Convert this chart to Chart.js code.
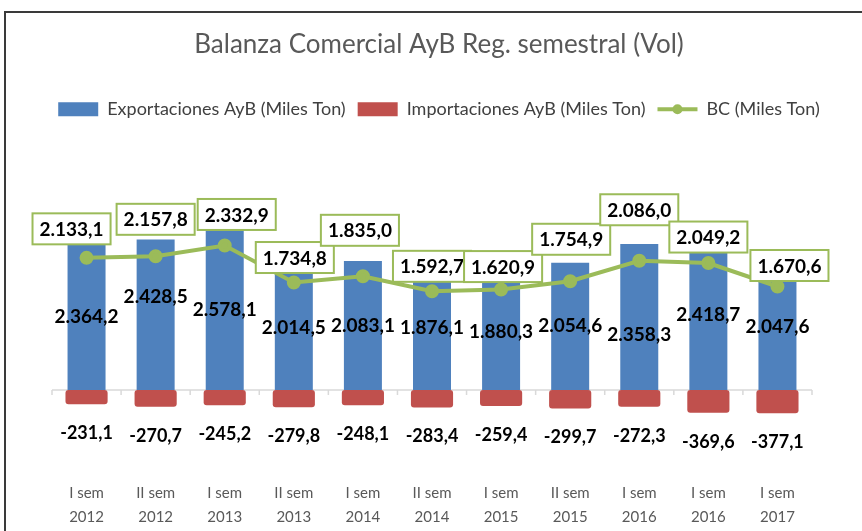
<!DOCTYPE html>
<html>
<head>
<meta charset="utf-8">
<script src="https://cdn.jsdelivr.net/npm/chart.js@4.4.1/dist/chart.umd.min.js"></script>
<style>
  html, body { margin: 0; padding: 0; background: #fff; overflow: hidden; }
  .frame {
    position: absolute; left: 4px; top: 11px;
    width: 900px; height: 600px;
    border: 2px solid #3a3a3a;
    overflow: hidden;
  }
  .chart-box { position: relative; width: 856px; height: 518px; }
</style>
</head>
<body>
<div class="frame">
  <div class="chart-box"><canvas id="chart"></canvas></div>
</div>
<script>
const categories = [
  ['I sem', '2012'], ['II sem', '2012'], ['I sem', '2013'], ['II sem', '2013'],
  ['I sem', '2014'], ['II sem', '2014'], ['I sem', '2015'], ['II sem', '2015'],
  ['I sem', '2016'], ['I sem', '2016'], ['I sem', '2017']
];
const exportaciones = [2364.2, 2428.5, 2578.1, 2014.5, 2083.1, 1876.1, 1880.3, 2054.6, 2358.3, 2418.7, 2047.6];
const importaciones = [-231.1, -270.7, -245.2, -279.8, -248.1, -283.4, -259.4, -299.7, -272.3, -369.6, -377.1];
const balanza = [2133.1, 2157.8, 2332.9, 1734.8, 1835.0, 1592.7, 1620.9, 1754.9, 2086.0, 2049.2, 1670.6];

// formato español: 2.364,2
function fmt(v) {
  const parts = Math.abs(v).toFixed(1).split('.');
  const ent = parts[0].replace(/\B(?=(\d{3})+(?!\d))/g, '.');
  return (v < 0 ? '-' : '') + ent + ',' + parts[1];
}

// eje cero y marcas entre categorías
const zeroAxis = {
  id: 'zeroAxis',
  beforeDatasetsDraw(chart) {
    const { ctx, scales: { x, y } } = chart;
    const y0 = y.getPixelForValue(0);
    const step = x.getPixelForValue(1) - x.getPixelForValue(0);
    ctx.save();
    ctx.strokeStyle = '#d9d9d9';
    ctx.lineWidth = 1.5;
    ctx.beginPath();
    ctx.moveTo(x.left, y0);
    ctx.lineTo(x.right, y0);
    for (let i = 0; i <= categories.length; i++) {
      const px = x.getPixelForValue(0) - step / 2 + i * step;
      ctx.moveTo(px, y0);
      ctx.lineTo(px, y0 + 5);
    }
    ctx.stroke();
    ctx.restore();
  }
};

// desplazamientos manuales de etiquetas (como en el original, para no encimarse)
const boxShiftX = [-15, 0, 12, 1, -3, 0, 2, 1, 0, 0, 12];
const boxShiftY = [-29, -37, -31, -25, -46, -25, -23, -42, -51, -26, -21];
const expShiftY = [0, -18, 0, 0, 0, -4, 0, 0, 18, 0, 0];

// etiquetas de datos
const valueLabels = {
  id: 'valueLabels',
  afterDatasetsDraw(chart) {
    const ctx = chart.ctx;
    ctx.save();
    ctx.textAlign = 'center';
    ctx.textBaseline = 'middle';
    ctx.fillStyle = '#000';

    // exportaciones: centro de la barra
    ctx.font = 'bold 19px Lato';
    chart.getDatasetMeta(0).data.forEach((bar, i) => {
      ctx.fillText(fmt(exportaciones[i]), bar.x, (bar.y + bar.base) / 2 + expShiftY[i]);
    });

    // importaciones: debajo de la barra
    ctx.font = 'bold 18px Lato';
    chart.getDatasetMeta(1).data.forEach((bar, i) => {
      ctx.fillText(fmt(importaciones[i]), bar.x, bar.y + 29);
    });

    // BC: recuadro sobre el punto
    ctx.font = 'bold 19px Lato';
    chart.getDatasetMeta(2).data.forEach((pt, i) => {
      const txt = fmt(balanza[i]);
      const w = ctx.measureText(txt).width + 14;
      const h = 31;
      const cx = pt.x + boxShiftX[i];
      const cy = pt.y + boxShiftY[i];
      ctx.fillStyle = '#fff';
      ctx.fillRect(cx - w / 2, cy - h / 2, w, h);
      ctx.strokeStyle = '#9bbb59';
      ctx.lineWidth = 2;
      ctx.strokeRect(cx - w / 2, cy - h / 2, w, h);
      ctx.fillStyle = '#000';
      ctx.fillText(txt, cx, cy + 1);
    });
    ctx.restore();
  },
  // punto sobre la línea de la leyenda BC
  afterDraw(chart) {
    const box = chart.legend.legendHitBoxes[2];
    if (!box) return;
    const ctx = chart.ctx;
    ctx.save();
    ctx.fillStyle = '#9bbb59';
    ctx.beginPath();
    ctx.arc(box.left + 20, box.top + box.height / 2, 5, 0, Math.PI * 2);
    ctx.fill();
    ctx.restore();
  }
};

new Chart(document.getElementById('chart'), {
  type: 'bar',
  data: {
    labels: categories,
    datasets: [
      {
        label: 'Exportaciones AyB (Miles Ton)',
        data: exportaciones,
        backgroundColor: '#4f81bd',
        categoryPercentage: 1,
        barPercentage: 0.55,
        order: 2
      },
      {
        label: 'Importaciones AyB (Miles Ton)',
        data: importaciones,
        backgroundColor: '#c0504d',
        borderRadius: 3,
        borderSkipped: false,
        categoryPercentage: 1,
        barPercentage: 0.61,
        order: 1
      },
      {
        type: 'line',
        label: 'BC (Miles Ton)',
        data: balanza,
        borderColor: '#9bbb59',
        backgroundColor: '#9bbb59',
        borderWidth: 4,
        pointRadius: 5,
        pointBackgroundColor: '#9bbb59',
        pointBorderColor: '#9bbb59',
        tension: 0,
        order: 0
      }
    ]
  },
  options: {
    responsive: true,
    maintainAspectRatio: false,
    animation: false,
    layout: { padding: { left: 10, right: 0, top: 0, bottom: 3 } },
    plugins: {
      title: {
        display: true,
        text: 'Balanza Comercial AyB Reg. semestral (Vol)',
        color: '#595959',
        font: { family: 'Lato', size: 26, weight: 'normal' },
        padding: { top: 16, bottom: 28 }
      },
      legend: {
        position: 'top',
        labels: {
          color: '#404040',
          font: { family: 'Lato', size: 18 },
          usePointStyle: true,
          pointStyleWidth: 40,
          boxHeight: 14,
          padding: 12,
          sort: (a, b) => a.datasetIndex - b.datasetIndex,
          generateLabels(chart) {
            const items = Chart.defaults.plugins.legend.labels.generateLabels(chart);
            items.forEach(it => {
              const ds = chart.data.datasets[it.datasetIndex];
              it.pointStyle = ds.type === 'line' ? 'line' : 'rect';
            });
            return items;
          }
        }
      },
      tooltip: { enabled: false }
    },
    scales: {
      x: {
        stacked: true,
        grid: { display: false, drawTicks: false },
        border: { display: false },
        ticks: {
          color: '#595959',
          font: { family: 'Lato', size: 15, lineHeight: 1.6 },
          padding: 10,
          maxRotation: 0
        },
        afterFit: (s) => { s.height = 57; }
      },
      y: {
        position: 'left',
        min: -1308,
        max: 4226,
        grid: { display: false },
        border: { display: false },
        ticks: { display: false },
        afterFit: (s) => { s.width = 36; }
      },
      margen: {
        position: 'right',
        grid: { display: false },
        border: { display: false },
        ticks: { display: false },
        afterFit: (s) => { s.width = 50; }
      }
    }
  },
  plugins: [zeroAxis, valueLabels]
});
</script>
</body>
</html>
